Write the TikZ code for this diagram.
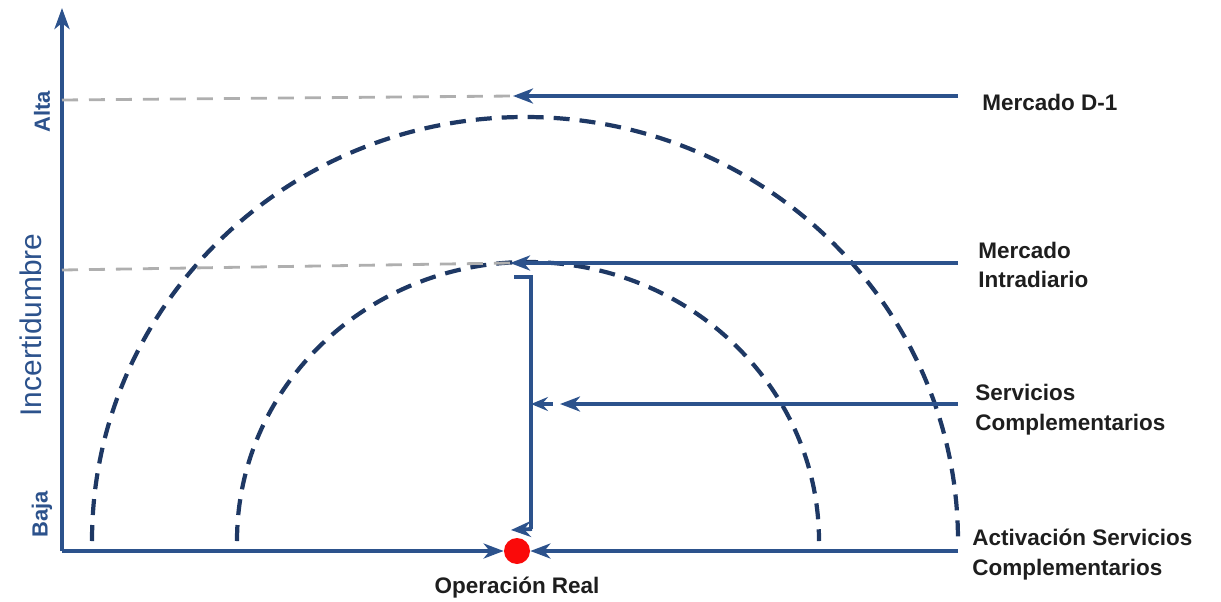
\documentclass[tikz,border=0pt]{standalone}
\usepackage{fontspec}
\setmainfont{Liberation Sans}
\usetikzlibrary{arrows.meta, positioning, calc}
\definecolor{axisblue}{RGB}{44, 82, 140}
\definecolor{arcnavy}{RGB}{30, 56, 100}
\definecolor{guidegray}{RGB}{175, 175, 175}
\definecolor{labelblack}{RGB}{30, 30, 30}
\definecolor{dotred}{RGB}{250, 10, 10}
\tikzset{
  axx/.style      = {line width=2.2pt, axisblue, -{Stealth[length=0.42cm, width=0.3cm, inset=0.12cm]}},
  flow/.style     = {line width=2.2pt, axisblue, -{Stealth[length=0.4cm, width=0.3cm, inset=0.12cm]}},
  guide/.style    = {line width=1.6pt, guidegray, dash pattern=on 0.32cm off 0.22cm},
  horizon/.style  = {line width=2.4pt, arcnavy, dash pattern=on 0.32cm off 0.2cm},
  lbl/.style      = {anchor=west, align=left, font=\fontsize{12.8}{17}\selectfont\bfseries, text=labelblack, inner sep=0pt},
  axlbl/.style    = {rotate=90, text=axisblue, inner sep=0pt},
}

\begin{document}
\begin{tikzpicture}[x=0.02cm, y=-0.02cm]
\useasboundingbox (0,0) rectangle (1221,602);

% ejes
\coordinate (origin) at (62,551);
\coordinate (ytop) at (62,8);
\node[circle, fill=dotred, minimum size=0.52cm, inner sep=0pt] (op) at (517,551) {};
\node[font=\fontsize{12.8}{15}\selectfont\bfseries, text=labelblack] (op_lbl) at (517,588) {Operación Real};
\draw[axx] (origin) -- (ytop);
\draw[flow] (origin) -- (op.west);

% etiquetas del eje vertical
\node[axlbl, font=\fontsize{12.5}{14}\selectfont\bfseries] (alta) at (42,112) {Alta};
\node[axlbl, font=\fontsize{17}{20}\selectfont] (incert) at (31,325) {Incertidumbre};
\node[axlbl, font=\fontsize{12.5}{14}\selectfont\bfseries] (baja) at (42,514) {Baja};

% horizontes (semicirculos)
\draw[horizon] (92,541) arc[start angle=180, end angle=360, x radius=433, y radius=424];
\draw[horizon] (237,541) arc[start angle=180, end angle=360, x radius=291, y radius=279];

% lineas guia grises
\coordinate (d1_tip) at (513,96);
\coordinate (id_tip) at (510,263);
\draw[guide] (62,100) -- (d1_tip);
\draw[guide] (62,270) -- (id_tip);

% etiquetas de mercados
\node[lbl] (d1) at (982,102) {Mercado D-1};
\node[lbl] (intra) at (978,265) {Mercado\\Intradiario};
\node[lbl] (serv) at (975,410) {Servicios\\Complementarios};
\node[lbl] (activ) at (972,555) {Activación Servicios\\Complementarios};

% flechas de mercados
\coordinate (d1_start) at (958,96);
\coordinate (id_start) at (958,263);
\coordinate (sc_start) at (958,404);
\coordinate (sc_tip) at (560,404);
\coordinate (ac_start) at (958,551);
\draw[flow] (d1_start) -- (d1_tip);
\draw[flow] (id_start) -- (id_tip);
\draw[flow] (sc_start) -- (sc_tip);
\draw[flow] (ac_start) -- (op.east);

% llave de servicios complementarios
\coordinate (br_top) at (514,277);
\coordinate (br_mid) at (531,404);
\coordinate (br_bot) at (511,530);
\draw[line width=2.2pt, axisblue] (br_top) -- (531,277) -- (531,529);
\draw[line width=2.2pt, axisblue, -{Stealth[length=0.4cm, width=0.32cm, inset=0.14cm]}] (532,529) -- (br_bot);
\draw[line width=2.2pt, axisblue, {Stealth[length=0.34cm, width=0.28cm, inset=0.12cm]}-] (br_mid) -- (553,404);

\end{tikzpicture}
\end{document}
